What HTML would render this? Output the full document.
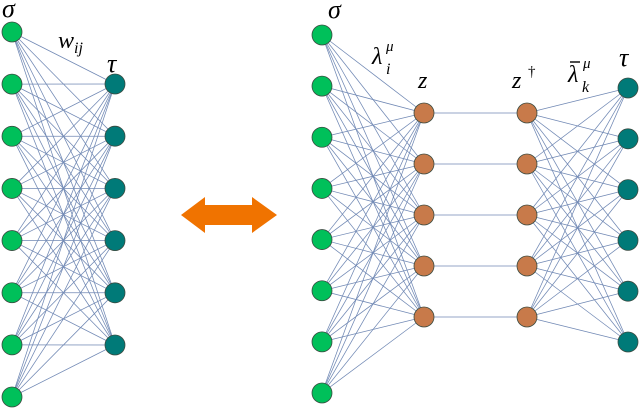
<!DOCTYPE html>
<html><head><meta charset="utf-8"><style>
html,body{margin:0;padding:0;background:#fff;}
svg{display:block}
</style></head><body>
<svg id="s" width="640" height="408" viewBox="0 0 640 408" xmlns="http://www.w3.org/2000/svg">
<g id="lines" stroke="#7088b4" stroke-width="0.75" fill="none"></g>
<g id="nodes" stroke="#3a4a40" stroke-width="0.8"></g>
<polygon fill="#f07300" points="181,215 205,197 205,205 252,205 252,197 277,215 252,233 252,225 205,225 205,233"/>
<g font-family="'Liberation Serif', serif" font-style="italic" fill="#000">
<text x="2" y="17" font-size="26">σ</text>
<text x="58" y="48" font-size="24">w<tspan font-size="16" dy="5">ij</tspan></text>
<text x="107" y="72" font-size="26">τ</text>
<text x="328" y="18" font-size="26">σ</text>
<text x="372" y="64" font-size="24">λ</text>
<text x="386" y="51" font-size="15">μ</text>
<text x="386" y="74" font-size="16">i</text>
<text x="418" y="88" font-size="24">z</text>
<text x="512" y="88" font-size="24">z</text>
<text x="528" y="76" font-size="15" font-style="normal">†</text>
<text x="568" y="82" font-size="24">λ</text>
<line x1="570" y1="62" x2="580" y2="62" stroke="#000" stroke-width="1.4"/>
<text x="583" y="68" font-size="15">μ</text>
<text x="582" y="92" font-size="16">k</text>
<text x="619" y="66" font-size="26">τ</text>
</g>
</svg>
<script>
var L=document.getElementById('lines'),N=document.getElementById('nodes'),ns='http://www.w3.org/2000/svg';
function ln(a,b){var e=document.createElementNS(ns,'line');e.setAttribute('x1',a[0]);e.setAttribute('y1',a[1]);e.setAttribute('x2',b[0]);e.setAttribute('y2',b[1]);L.appendChild(e);}
function nd(p,c){var e=document.createElementNS(ns,'circle');e.setAttribute('cx',p[0]);e.setAttribute('cy',p[1]);e.setAttribute('r',10);e.setAttribute('fill',c);N.appendChild(e);}
function col(x,y0,y1,n){var r=[];for(var i=0;i<n;i++)r.push([x,y0+(y1-y0)*i/(n-1)]);return r;}
var g1=col(12,32,397,8),t1=col(115,84,345,6);
var g2=col(322,35,393,8),o1=col(424,113,317,5),o2=col(527,113,317,5),t2=col(628,88,342,6);
g1.forEach(a=>t1.forEach(b=>ln(a,b)));
g2.forEach(a=>o1.forEach(b=>ln(a,b)));
o1.forEach((a,i)=>ln(a,o2[i]));
o2.forEach(a=>t2.forEach(b=>ln(a,b)));
g1.forEach(p=>nd(p,'#00c05a'));t1.forEach(p=>nd(p,'#007a78'));
g2.forEach(p=>nd(p,'#00c05a'));o1.forEach(p=>nd(p,'#c87a4a'));o2.forEach(p=>nd(p,'#c87a4a'));t2.forEach(p=>nd(p,'#007a78'));
</script>
</body></html>
